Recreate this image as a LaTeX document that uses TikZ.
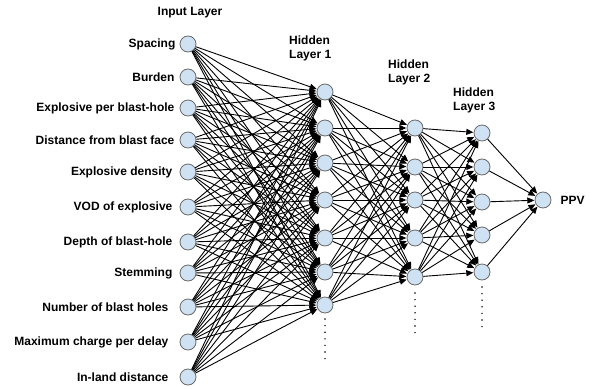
\documentclass[tikz,border=0pt]{standalone}
\usepackage{fontspec}
\setmainfont{Liberation Sans}
\usetikzlibrary{arrows.meta,positioning}
\definecolor{neuronfill}{HTML}{CFE2F3}
\definecolor{neurondraw}{HTML}{6A6A6A}

\begin{document}
\begin{tikzpicture}[x=1pt,y=-1pt,
	neuron/.style={circle,draw=neurondraw,fill=neuronfill,minimum size=16pt,inner sep=0pt,line width=0.8pt},
	synapse/.style={-{Triangle[length=7pt,width=6pt]},line width=0.9pt,shorten >=0.3pt},
	lbl/.style={font=\bfseries\fontsize{12}{14}\selectfont,inner sep=1pt},
	more/.style={line width=1.6pt,line cap=round,dash pattern=on 0pt off 6.6pt}]
	\useasboundingbox (0,0) rectangle (591,388);
	
	\foreach \y/\gap/\txt [count=\i] in {44/3/Spacing,77/4/Burden,108/4/Explosive per blast-hole,140/4/Distance from blast face,172/6/Explosive density,207/6/VOD of explosive,242/6/Depth of blast-hole,273/6/Stemming,307/10/Number of blast holes,342/10/Maximum charge per delay,377/10/In-land distance}
	{
		\node[neuron]					(I\i) at (188,\y) {};
		\node[lbl,left=\gap pt of I\i]	(L\i) {\txt};
	}
	\foreach \y [count=\i] in {92,128,163,200,238,272,305}
		\node[neuron]	(A\i) at (325,\y) {};
	\foreach \y [count=\i] in {128,167,200,238,277}
		\node[neuron]	(B\i) at (415,\y) {};
	\foreach \y [count=\i] in {133,167,202,235,272}
		\node[neuron]	(C\i) at (482,\y) {};
	\node[neuron]		(O) at (543,200) {};
	
	\node[lbl]						(inT) at (190,13) {Input Layer};
	\node[lbl,align=left,anchor=west]	(h1T) at (288,48) {Hidden\\Layer 1};
	\node[lbl,align=left,anchor=west]	(h2T) at (387,72) {Hidden\\Layer 2};
	\node[lbl,align=left,anchor=west]	(h3T) at (452,100) {Hidden\\Layer 3};
	\node[lbl,right=8pt of O]		(outT) {PPV};
	
	\foreach \i in {1,...,11}
		\foreach \j in {1,...,7}
			\draw[synapse]	(I\i) -- (A\j);
	\foreach \i in {1,...,7}
		\foreach \j in {1,...,5}
			\draw[synapse]	(A\i) -- (B\j);
	\foreach \i in {1,...,5}
		\foreach \j in {1,...,5}
			\draw[synapse]	(B\i) -- (C\j);
	\foreach \i in {1,...,5}
		\draw[synapse]	(C\i) -- (O);
	
	\coordinate (a0) at (325,319);	\coordinate (a1) at (325,359);
	\coordinate (b0) at (415,293);	\coordinate (b1) at (415,333);
	\coordinate (c0) at (482,287);	\coordinate (c1) at (482,327);
	\draw[more]	(a0) -- (a1);
	\draw[more]	(b0) -- (b1);
	\draw[more]	(c0) -- (c1);
\end{tikzpicture}
\end{document}
